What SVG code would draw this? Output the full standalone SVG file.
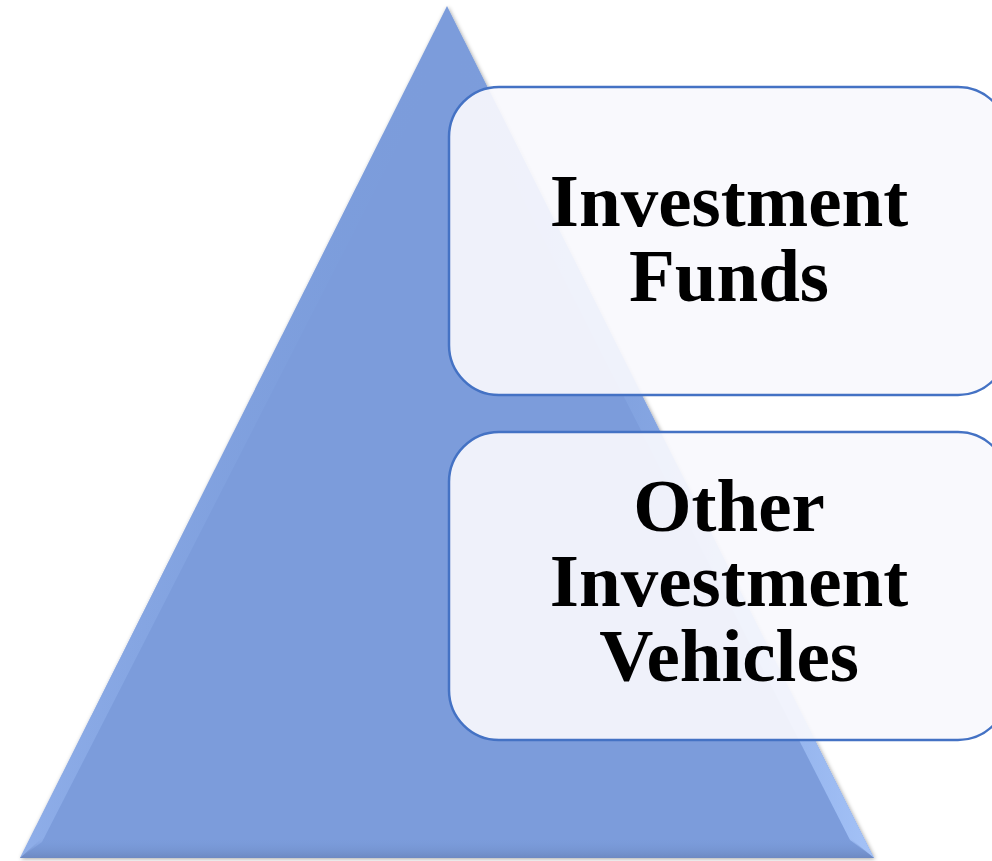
<svg xmlns="http://www.w3.org/2000/svg" width="992" height="861" viewBox="0 0 992 861">
  <defs>
    <linearGradient id="rbev" x1="0" y1="0" x2="1" y2="0">
      <stop offset="0" stop-color="#7b9cdb" stop-opacity="0"/>
      <stop offset="1" stop-color="#a4c2f7"/>
    </linearGradient>
    <linearGradient id="lbev" x1="1" y1="0" x2="0" y2="0">
      <stop offset="0" stop-color="#7b9cdb" stop-opacity="0"/>
      <stop offset="1" stop-color="#9cbaf2"/>
    </linearGradient>
    <linearGradient id="bbev" x1="0" y1="0" x2="0" y2="1">
      <stop offset="0" stop-color="#7b9cdb" stop-opacity="0"/>
      <stop offset="1" stop-color="#6d89c2"/>
    </linearGradient>
    <filter id="sh" x="-10%" y="-10%" width="120%" height="120%">
      <feGaussianBlur in="SourceAlpha" stdDeviation="2"/>
      <feOffset dx="1" dy="1"/>
      <feComponentTransfer><feFuncA type="linear" slope="0.35"/></feComponentTransfer>
      <feMerge><feMergeNode/><feMergeNode in="SourceGraphic"/></feMerge>
    </filter>
  </defs>
  <style>
    .box { fill: #f9f8fd; fill-opacity: 0.92; stroke: #4472c4; stroke-width: 2.5; }
    .lbl { font-family: "Liberation Serif", "Times New Roman", serif; font-weight: bold; font-size: 75px; fill: #000; text-anchor: middle; }
  </style>
  <g id="pyramid" filter="url(#sh)">
    <polygon points="447,6 874,858 20,858" fill="#7b9cdb"/>
    <polygon points="447,6 874,858 850,840 447,50" fill="url(#rbev)"/>
    <polygon points="447,6 447,50 42,842 20,858" fill="url(#lbev)" opacity="0.6"/>
    <polygon points="20,858 874,858 850,838 42,838" fill="url(#bbev)"/>
  </g>
  <g id="node-investment-funds">
    <rect class="box" x="449" y="87" width="559" height="308" rx="50" ry="50"/>
    <text class="lbl" x="729" y="226">Investment</text>
    <text class="lbl" x="729" y="301">Funds</text>
  </g>
  <g id="node-other-vehicles">
    <rect class="box" x="449" y="432" width="559" height="308" rx="50" ry="50"/>
    <text class="lbl" x="729" y="531">Other</text>
    <text class="lbl" x="729" y="606">Investment</text>
    <text class="lbl" x="729" y="681">Vehicles</text>
  </g>
  <g id="connectors"/>
</svg>
